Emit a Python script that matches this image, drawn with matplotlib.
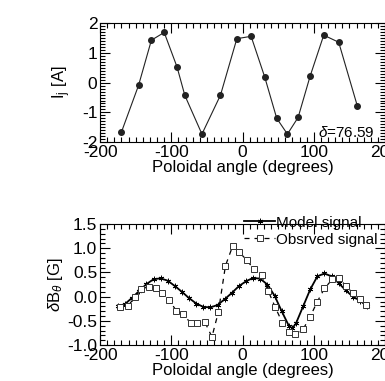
import matplotlib
matplotlib.use("Agg")
import matplotlib.pyplot as plt
from matplotlib.ticker import MultipleLocator

plt.rcParams['font.family'] = ['Liberation Sans', 'DejaVu Sans']
plt.rcParams['mathtext.fontset'] = 'custom'
plt.rcParams['mathtext.rm'] = 'Liberation Sans'
plt.rcParams['mathtext.it'] = 'Liberation Sans:italic'
plt.rcParams['axes.unicode_minus'] = False

# top panel: currents
angle_top = [-170, -146, -128, -110, -92, -81, -57, -31, -8, 12, 31, 48, 63, 78, 95, 114, 135, 161]
current = [-1.66, -0.09, 1.43, 1.69, 0.53, -0.43, -1.73, -0.42, 1.48, 1.56, 0.2, -1.2, -1.73, -1.17, 0.23, 1.6, 1.36, -0.77]

# bottom panel: model
angle_model = [-175, -165, -155, -145, -135, -125, -115, -105, -95, -85, -75, -65, -55, -45, -35, -25,
               -15, -5, 5, 15, 25, 35, 45, 55, 65, 70, 75, 85, 95, 105, 115, 125, 135, 145, 155, 165, 175]
model = [-0.2, -0.15, -0.02, 0.12, 0.26, 0.36, 0.38, 0.33, 0.22, 0.1, -0.03, -0.14, -0.21, -0.22, -0.17, -0.05,
         0.08, 0.22, 0.32, 0.39, 0.37, 0.25, 0.02, -0.3, -0.6, -0.65, -0.55, -0.2, 0.15, 0.42, 0.48, 0.42, 0.28,
         0.13, 0.0, -0.08, -0.2]

# bottom panel: observed
angle_obs = [-172, -161, -151, -142, -131, -122, -113, -103, -93, -84, -73, -64, -53, -43, -34, -24, -14, -5,
             6, 16, 27, 36, 46, 56, 65, 74, 85, 95, 105, 115, 126, 135, 145, 155, 165, 174]
observed = [-0.21, -0.19, -0.01, 0.16, 0.21, 0.19, 0.08, -0.07, -0.29, -0.35, -0.54, -0.54, -0.52, -0.83,
            -0.32, 0.64, 1.04, 0.93, 0.75, 0.57, 0.45, 0.12, -0.22, -0.54, -0.73, -0.77, -0.67, -0.41, -0.1,
            0.17, 0.36, 0.38, 0.23, 0.07, -0.05, -0.17]

fig = plt.figure(figsize=(3.85, 3.81), dpi=100)
ax1 = fig.add_axes([0.26, 0.627, 0.74, 0.312])
ax2 = fig.add_axes([0.26, 0.094, 0.74, 0.318])


def style(ax):
    ax.tick_params(which='both', direction='in', top=True, right=True, labelsize=12.5, width=0.8)
    ax.tick_params(which='major', length=7, pad=2)
    ax.tick_params(which='minor', length=3.5)
    ax.xaxis.set_major_locator(MultipleLocator(100))
    ax.xaxis.set_minor_locator(MultipleLocator(10))
    for s in ax.spines.values():
        s.set_linewidth(0.8)


ax1.plot(angle_top, current, color='#222222', lw=0.8, marker='o', ms=4)
ax1.set_xlim(-200, 200)
ax1.set_ylim(-2, 2)
ax1.yaxis.set_major_locator(MultipleLocator(1))
ax1.yaxis.set_minor_locator(MultipleLocator(0.1))
style(ax1)
ax1.set_xlabel('Poloidal angle (degrees)', fontsize=12, labelpad=0)
ax1.set_ylabel(r'I$_\mathrm{j}$ [A]', fontsize=12, labelpad=6)
ax1.text(0.965, 0.02, r'$\delta$=76.59', transform=ax1.transAxes, ha='right', va='bottom', fontsize=11)

ax2.plot(angle_model, model, color='black', lw=1.3, marker=(6, 2, 0), ms=4, mew=0.6,
         label='Model signal')
ax2.plot(angle_obs, observed, color='black', lw=0.9, ls=(0, (4, 4)), marker='s', ms=4.5,
         mfc='white', mec='#333333', mew=0.7, label='Obsrved signal')
ax2.set_xlim(-200, 200)
ax2.set_ylim(-1.0, 1.5)
ax2.set_yticks([-1.0, -0.5, 0.0, 0.5, 1.0, 1.5])
ax2.set_yticklabels(['-1.0', '-0.5', '0.0', '0.5', '1.0', '1.5'])
ax2.yaxis.set_minor_locator(MultipleLocator(0.1))
style(ax2)
ax2.set_xlabel('Poloidal angle (degrees)', fontsize=12, labelpad=0)
ax2.set_ylabel(r'$\delta$B$_\theta$ [G]', fontsize=12, labelpad=2)
ax2.legend(loc='upper right', bbox_to_anchor=(0.975, 1.07), frameon=False, fontsize=11,
           handlelength=2.0, handletextpad=0.1, borderpad=0, labelspacing=0.2, borderaxespad=0)

fig.savefig('out.png', dpi=100)
